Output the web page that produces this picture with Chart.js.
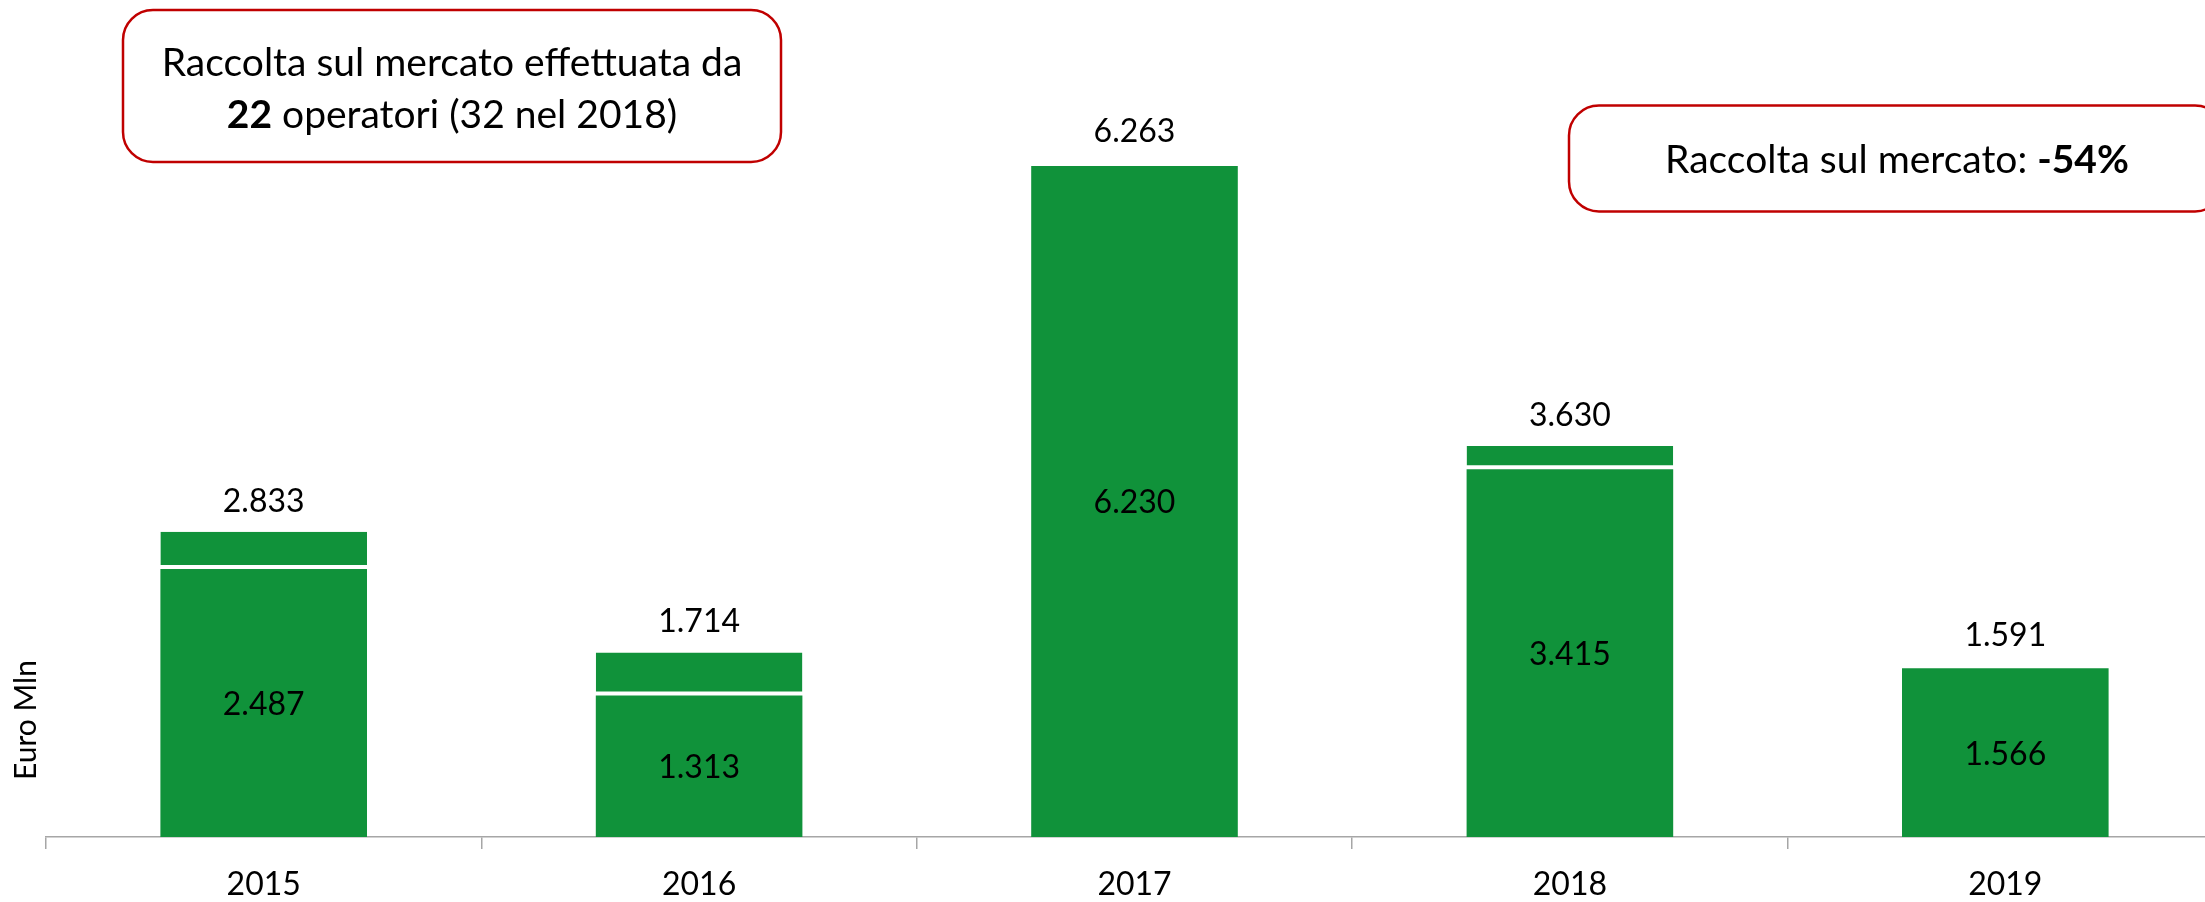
<!DOCTYPE html>
<html><head><meta charset="utf-8">
<script src="https://cdn.jsdelivr.net/npm/chart.js@4.4.1/dist/chart.umd.min.js"></script>
<style>
html,body{margin:0;padding:0;background:#fff;overflow:hidden;width:2205px;height:902px}
#wrap{position:absolute;left:0;top:0;width:2240px;height:902px}
</style></head><body>
<div id="wrap"><canvas id="c" width="2240" height="902"></canvas></div>
<script>
// ---- data ----
const years = ['2015', '2016', '2017', '2018', '2019'];
const totals = [2833, 1714, 6263, 3630, 1591];
const baseValues = [2487, 1313, 6230, 3415, 1566];
const yAxisLabel = 'Euro Mln';
const noteLeftLine1 = [['Raccolta sul mercato effettuata da', false]];
const noteLeftLine2 = [['22', true], [' operatori (32 nel 2018)', false]];
const noteRight = [['Raccolta sul mercato: ', false], ['-54%', true]];
// ---------------
const topSegments = totals.map((t, i) => t - baseValues[i]);

const GREEN = '#10923a';
const RED = '#c00000';
const AXIS = '#a6a6a6';
const FONT = 'Lato';
const LABEL_SIZE = 32;
const NOTE_SIZE = 39;

const fmt = v => String(v).replace(/\B(?=(\d{3})+(?!\d))/g, '.');

function drawRich(ctx, parts, cx, baseline, size) {
  let widths = parts.map(([t, b]) => { ctx.font = (b ? 'bold ' : '') + size + 'px ' + FONT; return ctx.measureText(t).width; });
  const total = widths.reduce((a, b) => a + b, 0);
  let xx = cx - total / 2;
  ctx.textAlign = 'left';
  ctx.textBaseline = 'alphabetic';
  parts.forEach(([t, b], i) => {
    ctx.font = (b ? 'bold ' : '') + size + 'px ' + FONT;
    ctx.fillText(t, xx, baseline);
    xx += widths[i];
  });
}

const overlay = {
  id: 'overlay',
  afterDatasetsDraw(chart) {
    const { ctx, scales: { x, y } } = chart;
    ctx.save();
    ctx.fillStyle = '#000';
    ctx.textAlign = 'center';
    ctx.textBaseline = 'alphabetic';
    ctx.font = LABEL_SIZE + 'px ' + FONT;
    years.forEach((_, i) => {
      const cx = x.getPixelForValue(i);
      ctx.fillText(fmt(totals[i]), cx, y.getPixelForValue(totals[i]) - 20);
      const mid = (y.getPixelForValue(0) + y.getPixelForValue(baseValues[i])) / 2;
      ctx.fillText(fmt(baseValues[i]), cx, mid + 12);
    });
    // y axis label
    ctx.save();
    ctx.translate(36, 720);
    ctx.rotate(-Math.PI / 2);
    ctx.font = '30px ' + FONT;
    ctx.textAlign = 'center';
    ctx.fillText(yAxisLabel, 0, 0);
    ctx.restore();
    // note boxes
    ctx.strokeStyle = RED;
    ctx.lineWidth = 2.5;
    ctx.beginPath();
    ctx.roundRect(123, 10, 658, 152, 30);
    ctx.stroke();
    ctx.beginPath();
    ctx.roundRect(1569, 105.5, 656, 106, 30);
    ctx.stroke();
    ctx.fillStyle = '#000';
    drawRich(ctx, noteLeftLine1, 452, 76, NOTE_SIZE);
    drawRich(ctx, noteLeftLine2, 452, 128, NOTE_SIZE);
    drawRich(ctx, noteRight, 1897, 173, NOTE_SIZE);
    ctx.restore();
  }
};

new Chart(document.getElementById('c'), {
  type: 'bar',
  data: {
    labels: years,
    datasets: [
      { label: 'base', data: baseValues, backgroundColor: GREEN, borderWidth: 0,
        barPercentage: 0.4745, categoryPercentage: 1 },
      { label: 'top', data: topSegments,
        backgroundColor: c => (c.raw < 50 ? '#ffffff' : GREEN),
        borderColor: '#ffffff', borderWidth: { top: 0, left: 0, right: 0, bottom: 4 }, borderSkipped: false,
        barPercentage: 0.4745, categoryPercentage: 1 }
    ]
  },
  options: {
    responsive: false, animation: false, devicePixelRatio: 1,
    layout: { padding: { left: 46, right: 17, top: 83, bottom: 0 } },
    plugins: { legend: { display: false }, tooltip: { enabled: false } },
    scales: {
      x: {
        stacked: true,
        grid: { offset: true, drawOnChartArea: false, drawTicks: true, tickLength: 12, color: AXIS, lineWidth: 1.5 },
        border: { display: true, color: AXIS, width: 1.5 },
        ticks: { color: '#000', font: { family: FONT, size: LABEL_SIZE }, padding: 16 },
        afterFit: s => { s.height = 65; }
      },
      y: { stacked: true, display: false, min: 0, max: 7000 }
    }
  },
  plugins: [overlay]
});
</script>
</body></html>
